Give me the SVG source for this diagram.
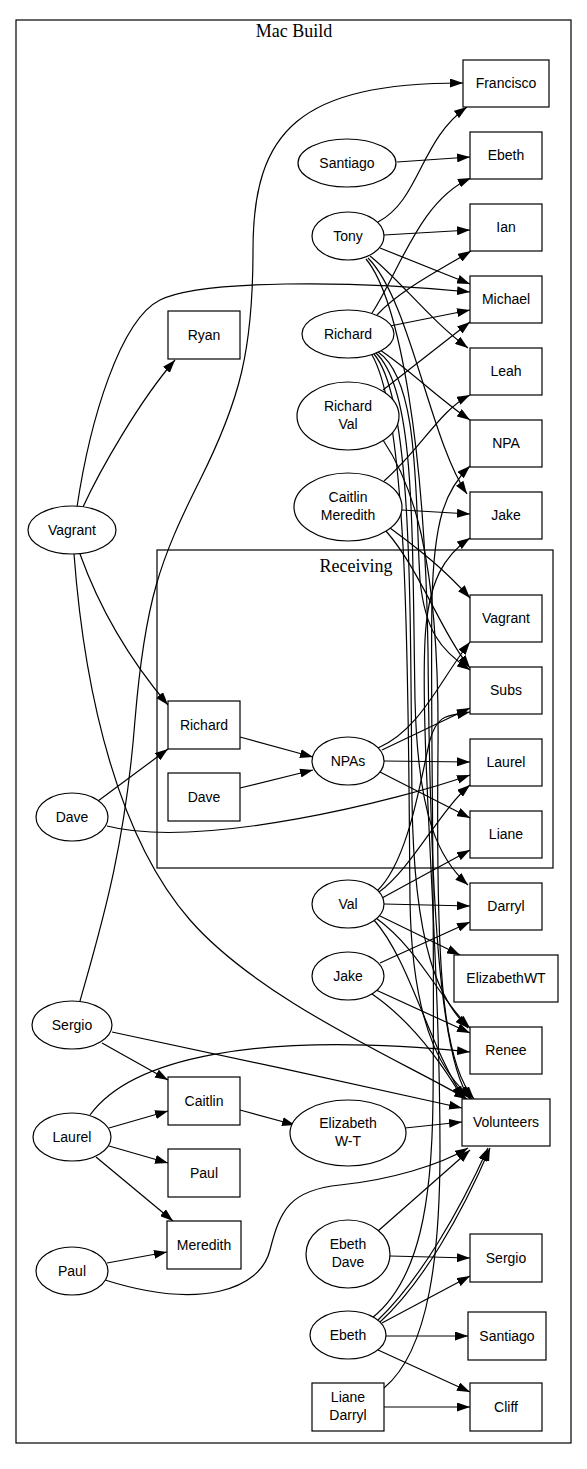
<svg xmlns="http://www.w3.org/2000/svg" width="587" height="1469" viewBox="0 0 587 1469">
<defs>
<marker id="ah" markerWidth="13" markerHeight="9" refX="13" refY="4.5" orient="auto" markerUnits="userSpaceOnUse"><path d="M0,0 L13,4.5 L0,9 z" fill="#000"/></marker>
<style>
.cl{fill:none;stroke:#000;stroke-width:1.2}
.ct{font-family:"Liberation Serif",serif;font-size:18px;text-anchor:middle}
.n rect,.n ellipse{fill:#fff;stroke:#000;stroke-width:1.2}
.n text{font-family:"Liberation Sans",Arial,sans-serif;font-size:14px;text-anchor:middle;fill:#000}
.e path{fill:none;stroke:#000;stroke-width:1.2;marker-end:url(#ah)}
</style>
</defs>
<rect width="587" height="1469" fill="#fff"/>
<g id="cluster_mac"><rect class="cl" x="16" y="20" width="555" height="1423"/><text class="ct" x="294" y="37">Mac Build</text></g>
<g id="cluster_receiving"><rect class="cl" x="157" y="550" width="396" height="318"/><text class="ct" x="356" y="572">Receiving</text></g>
<g id="edges" class="e">
<path d="M83,507 C100,470 140,400 175,360"/>
<path d="M77,507 C90,420 120,320 160,300 C200,280 350,280 470,292"/>
<path d="M80,554 C100,610 130,660 168,705"/>
<path d="M74,554 C85,700 120,840 190,920 C260,1000 400,1060 467,1099"/>
<path d="M98,801 L168,749"/>
<path d="M107,826 C200,850 400,800 470,775"/>
<path d="M80,1001 C100,930 125,850 135,720 C145,600 160,560 200,480 C240,400 253,350 253,250 C253,130 300,83 463,83"/>
<path d="M102,1043 L168,1080"/>
<path d="M112,1032 C200,1050 380,1090 462,1108"/>
<path d="M109,1128 L168,1111"/>
<path d="M109,1146 L168,1163"/>
<path d="M96,1157 L173,1221"/>
<path d="M90,1115 C130,1060 250,1030 470,1052"/>
<path d="M107,1263 L167,1252"/>
<path d="M105,1280 C200,1310 260,1290 270,1250 C280,1210 290,1190 340,1185 C390,1180 440,1165 468,1148"/>
<path d="M240,737 L313,757"/>
<path d="M240,788 L313,770"/>
<path d="M240,1110 L295,1125"/>
<path d="M405,1128 L462,1122"/>
<path d="M397,162 L470,157"/>
<path d="M378,222 C420,200 420,140 467,107"/>
<path d="M384,235 L470,230"/>
<path d="M380,248 L470,284"/>
<path d="M370,256 C400,280 430,320 468,348"/>
<path d="M368,258 C410,300 430,440 467,494"/>
<path d="M366,259 C400,300 425,450 428,650 C430,900 440,1060 470,1099"/>
<path d="M372,313 C400,270 420,200 471,178"/>
<path d="M377,315 C400,290 440,270 471,251"/>
<path d="M390,326 L470,310"/>
<path d="M380,350 C410,370 440,400 470,420"/>
<path d="M378,352 C420,380 415,500 420,580 C425,630 440,650 470,670"/>
<path d="M376,353 C415,390 412,520 415,700 C418,820 440,860 468,885"/>
<path d="M374,354 C413,400 410,600 412,800 C414,950 440,1000 468,1028"/>
<path d="M372,355 C410,420 408,700 410,900 C412,1040 450,1080 472,1099"/>
<path d="M383,390 L470,322"/>
<path d="M383,440 C410,480 440,550 438,750 C436,950 440,1060 474,1099"/>
<path d="M384,481 C420,450 440,410 470,395"/>
<path d="M402,510 L470,514"/>
<path d="M390,528 C420,550 445,570 470,598"/>
<path d="M386,531 C420,570 440,630 470,668"/>
<path d="M378,748 C420,730 440,680 470,642"/>
<path d="M382,750 L470,708"/>
<path d="M384,761 L470,762"/>
<path d="M380,772 L470,818"/>
<path d="M377,891 C410,860 422,770 430,740 C438,712 450,716 470,712"/>
<path d="M379,892 C412,868 440,810 470,785"/>
<path d="M382,898 L470,850"/>
<path d="M384,904 L470,906"/>
<path d="M378,915 L460,955"/>
<path d="M376,918 C420,950 440,1000 470,1028"/>
<path d="M374,920 C410,960 430,1050 465,1099"/>
<path d="M380,963 L470,922"/>
<path d="M376,990 L470,1033"/>
<path d="M372,994 C410,1020 440,1060 463,1099"/>
<path d="M378,1231 L470,1150"/>
<path d="M390,1256 L470,1258"/>
<path d="M378,1320 C420,1280 460,1210 488,1148"/>
<path d="M380,1322 C422,1284 462,1214 490,1148"/>
<path d="M372,1318 C420,1280 432,1200 433,1100 C435,900 430,700 432,600 C434,520 445,490 470,466"/>
<path d="M382,1323 L470,1276"/>
<path d="M386,1336 L468,1336"/>
<path d="M378,1350 L470,1392"/>
<path d="M384,1407 L470,1407"/>
<path d="M384,1388 C430,1350 440,1250 440,1150 C440,950 420,750 425,640 C428,580 445,555 470,538"/>
</g>
<g id="n_vagrant" class="n"><ellipse cx="72" cy="530" rx="44" ry="24"/><text x="72" y="535">Vagrant</text></g>
<g id="n_dave" class="n"><ellipse cx="72" cy="817" rx="36" ry="24"/><text x="72" y="822">Dave</text></g>
<g id="n_sergio" class="n"><ellipse cx="72" cy="1025" rx="40" ry="24"/><text x="72" y="1030">Sergio</text></g>
<g id="n_laurel" class="n"><ellipse cx="72" cy="1137" rx="39" ry="24"/><text x="72" y="1142">Laurel</text></g>
<g id="n_paul" class="n"><ellipse cx="72" cy="1271" rx="36" ry="24"/><text x="72" y="1276">Paul</text></g>
<g id="n_ryan" class="n"><rect x="168" y="311" width="72" height="48"/><text x="204" y="340">Ryan</text></g>
<g id="n_richard_r" class="n"><rect x="168" y="701" width="72" height="48"/><text x="204" y="730">Richard</text></g>
<g id="n_dave_r" class="n"><rect x="168" y="773" width="72" height="48"/><text x="204" y="802">Dave</text></g>
<g id="n_caitlin" class="n"><rect x="168" y="1077" width="72" height="48"/><text x="204" y="1106">Caitlin</text></g>
<g id="n_paul_b" class="n"><rect x="168" y="1149" width="72" height="48"/><text x="204" y="1178">Paul</text></g>
<g id="n_meredith" class="n"><rect x="167" y="1221" width="74" height="48"/><text x="204" y="1250">Meredith</text></g>
<g id="n_santiago" class="n"><ellipse cx="347" cy="163" rx="49" ry="24"/><text x="347" y="168">Santiago</text></g>
<g id="n_tony" class="n"><ellipse cx="348" cy="236" rx="36" ry="24"/><text x="348" y="241">Tony</text></g>
<g id="n_richard" class="n"><ellipse cx="348" cy="334" rx="46" ry="24"/><text x="348" y="339">Richard</text></g>
<g id="n_richardval" class="n"><ellipse cx="348" cy="416" rx="51" ry="34"/><text x="348" y="411">Richard</text><text x="348" y="429">Val</text></g>
<g id="n_caitlinmeredith" class="n"><ellipse cx="348" cy="507" rx="54" ry="34"/><text x="348" y="502">Caitlin</text><text x="348" y="520">Meredith</text></g>
<g id="n_npas" class="n"><ellipse cx="348" cy="761" rx="36" ry="24"/><text x="348" y="766">NPAs</text></g>
<g id="n_val" class="n"><ellipse cx="348" cy="904" rx="36" ry="24"/><text x="348" y="909">Val</text></g>
<g id="n_jake" class="n"><ellipse cx="348" cy="976" rx="36" ry="24"/><text x="348" y="981">Jake</text></g>
<g id="n_elizabethwt_e" class="n"><ellipse cx="348" cy="1133" rx="58" ry="33"/><text x="348" y="1128">Elizabeth</text><text x="348" y="1146">W-T</text></g>
<g id="n_ebethdave" class="n"><ellipse cx="348" cy="1254" rx="42" ry="34"/><text x="348" y="1249">Ebeth</text><text x="348" y="1267">Dave</text></g>
<g id="n_ebeth" class="n"><ellipse cx="348" cy="1335" rx="38" ry="24"/><text x="348" y="1340">Ebeth</text></g>
<g id="n_lianedarryl" class="n"><rect x="312" y="1383" width="72" height="48"/><text x="348" y="1402">Liane</text><text x="348" y="1420">Darryl</text></g>
<g id="n_francisco" class="n"><rect x="463" y="60" width="86" height="47"/><text x="506" y="88">Francisco</text></g>
<g id="n_ebeth_r" class="n"><rect x="470" y="132" width="72" height="47"/><text x="506" y="160">Ebeth</text></g>
<g id="n_ian" class="n"><rect x="470" y="204" width="72" height="47"/><text x="506" y="232">Ian</text></g>
<g id="n_michael" class="n"><rect x="470" y="276" width="72" height="47"/><text x="506" y="304">Michael</text></g>
<g id="n_leah" class="n"><rect x="470" y="348" width="72" height="47"/><text x="506" y="376">Leah</text></g>
<g id="n_npa" class="n"><rect x="470" y="420" width="72" height="47"/><text x="506" y="448">NPA</text></g>
<g id="n_jake_r" class="n"><rect x="470" y="492" width="72" height="47"/><text x="506" y="520">Jake</text></g>
<g id="n_vagrant_r" class="n"><rect x="470" y="595" width="72" height="47"/><text x="506" y="623">Vagrant</text></g>
<g id="n_subs" class="n"><rect x="470" y="667" width="72" height="47"/><text x="506" y="695">Subs</text></g>
<g id="n_laurel_r" class="n"><rect x="470" y="739" width="72" height="47"/><text x="506" y="767">Laurel</text></g>
<g id="n_liane" class="n"><rect x="470" y="811" width="72" height="47"/><text x="506" y="839">Liane</text></g>
<g id="n_darryl" class="n"><rect x="470" y="883" width="72" height="47"/><text x="506" y="911">Darryl</text></g>
<g id="n_elizabethwt" class="n"><rect x="454" y="955" width="104" height="47"/><text x="506" y="983">ElizabethWT</text></g>
<g id="n_renee" class="n"><rect x="470" y="1027" width="72" height="47"/><text x="506" y="1055">Renee</text></g>
<g id="n_volunteers" class="n"><rect x="462" y="1099" width="88" height="47"/><text x="506" y="1127">Volunteers</text></g>
<g id="n_sergio_r" class="n"><rect x="470" y="1234" width="72" height="48"/><text x="506" y="1263">Sergio</text></g>
<g id="n_santiago_r" class="n"><rect x="468" y="1312" width="78" height="48"/><text x="507" y="1341">Santiago</text></g>
<g id="n_cliff" class="n"><rect x="470" y="1383" width="72" height="48"/><text x="506" y="1412">Cliff</text></g>
</svg>
